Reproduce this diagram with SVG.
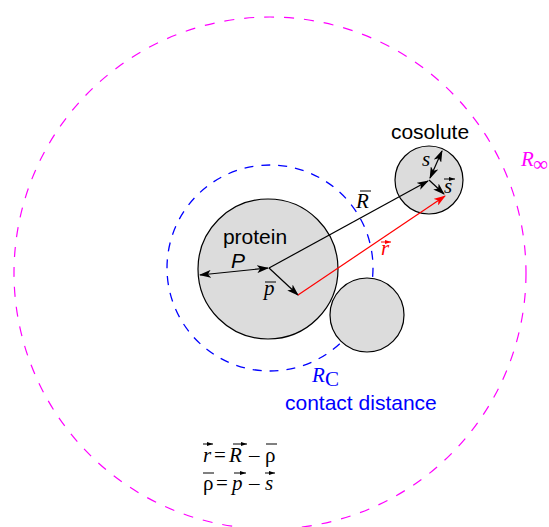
<svg xmlns="http://www.w3.org/2000/svg" width="549" height="527" viewBox="0 0 549 527">
<defs>
<style>
.sans{font-family:"Liberation Sans",Arial,sans-serif;font-size:21px}
.ser{font-family:"Liberation Serif","Times New Roman",serif;font-size:21px}
.it{font-style:italic}
.ln{stroke:#000;stroke-width:1.2;fill:none}
.bar{stroke-width:1;fill:none}
</style>
<marker id="ah" viewBox="0 0 12 8" refX="11" refY="4" markerWidth="12" markerHeight="8" markerUnits="userSpaceOnUse" orient="auto-start-reverse">
<path d="M0,0 L12,4 L0,8 L3,4 Z" fill="#000"/>
</marker>
<marker id="ahr" viewBox="0 0 12 8" refX="11" refY="4" markerWidth="12" markerHeight="8" markerUnits="userSpaceOnUse" orient="auto">
<path d="M0,0 L12,4 L0,8 L3,4 Z" fill="#f00"/>
</marker>
<marker id="sa" viewBox="0 0 6 4" refX="6" refY="2" markerWidth="6" markerHeight="4" markerUnits="userSpaceOnUse" orient="auto">
<path d="M0,0 L6,2 L0,4 Z" fill="#000"/>
</marker>
<marker id="sar" viewBox="0 0 6 4" refX="6" refY="2" markerWidth="6" markerHeight="4" markerUnits="userSpaceOnUse" orient="auto">
<path d="M0,0 L6,2 L0,4 Z" fill="#f00"/>
</marker>
</defs>
<rect width="549" height="527" fill="#fff"/>
<g id="infinity-circle">
<circle cx="270" cy="273" r="256" fill="none" stroke="#f0f" stroke-width="1.2" stroke-dasharray="10,10"/>
<text class="ser it" x="521" y="166" fill="#f0f">R</text>
<text class="ser" x="533" y="171" fill="#f0f" font-size="15">∞</text>
</g>
<g id="contact-circle">
<circle cx="270" cy="268" r="103" fill="none" stroke="#00f" stroke-width="1.3" stroke-dasharray="9,8"/>
<text class="ser it" x="312" y="382" fill="#00f">R</text>
<text class="ser" x="325" y="386" fill="#00f" font-size="14">C</text>
<text class="sans" x="285" y="410" fill="#00f">contact distance</text>
</g>
<g id="protein">
<circle cx="268" cy="269" r="70" fill="#dcdcdc" stroke="#000" stroke-width="1.2"/>
<text class="sans" x="255" y="244" text-anchor="middle">protein</text>
</g>
<g id="cosolute">
<circle cx="429" cy="180" r="34" fill="#dcdcdc" stroke="#000" stroke-width="1.2"/>
<text class="sans" x="430" y="139" text-anchor="middle">cosolute</text>
</g>
<g id="cosolute2">
<circle cx="367" cy="315" r="37" fill="#dcdcdc" stroke="#000" stroke-width="1.2"/>
</g>
<g id="connectors">
<line class="ln" x1="200" y1="275" x2="268" y2="268" marker-start="url(#ah)" marker-end="url(#ah)"/>
<line class="ln" x1="269" y1="268" x2="428" y2="181" marker-end="url(#ah)"/>
<line class="ln" x1="269" y1="268" x2="298" y2="295" marker-end="url(#ah)"/>
<line class="ln" x1="429" y1="180" x2="444" y2="194" marker-end="url(#ah)"/>
<line class="ln" x1="430" y1="178" x2="442" y2="151" marker-start="url(#ah)" marker-end="url(#ah)"/>
<line x1="298" y1="295" x2="445" y2="196" stroke="#f00" stroke-width="1.2" marker-end="url(#ahr)"/>
</g>
<g id="labels">
<text class="sans it" x="231" y="268" font-size="19">P</text>
<text class="ser it" x="264" y="295">p</text>
<line class="bar" x1="265" y1="282" x2="276" y2="282" stroke="#000"/>
<text class="ser it" x="356" y="208">R</text>
<line class="bar" x1="360" y1="191" x2="371" y2="191" stroke="#000"/>
<text class="ser it" x="381" y="255" fill="#f00">r</text>
<line class="bar" x1="381" y1="242" x2="391" y2="242" stroke="#f00" marker-end="url(#sar)"/>
<text class="ser it" x="422" y="166">s</text>
<text class="ser it" x="444" y="193">s</text>
<line class="bar" x1="444" y1="179" x2="455" y2="179" stroke="#000" marker-end="url(#sa)"/>
</g>
<g id="equations">
<text class="ser" y="462"><tspan class="it" x="203">r</tspan><tspan x="214">=</tspan><tspan class="it" x="229">R</tspan><tspan x="249">–</tspan><tspan x="265">ρ</tspan></text>
<line class="bar" x1="203" y1="444" x2="213" y2="444" stroke="#000" marker-end="url(#sa)"/>
<line class="bar" x1="233" y1="444" x2="247" y2="444" stroke="#000" marker-end="url(#sa)"/>
<line class="bar" x1="266" y1="444" x2="277" y2="444" stroke="#000"/>
<text class="ser" y="490"><tspan x="203">ρ</tspan><tspan x="216">=</tspan><tspan class="it" x="232">p</tspan><tspan x="249">–</tspan><tspan class="it" x="265">s</tspan></text>
<line class="bar" x1="203" y1="473" x2="214" y2="473" stroke="#000"/>
<line class="bar" x1="234" y1="473" x2="246" y2="473" stroke="#000" marker-end="url(#sa)"/>
<line class="bar" x1="265" y1="473" x2="275" y2="473" stroke="#000" marker-end="url(#sa)"/>
</g>
</svg>
